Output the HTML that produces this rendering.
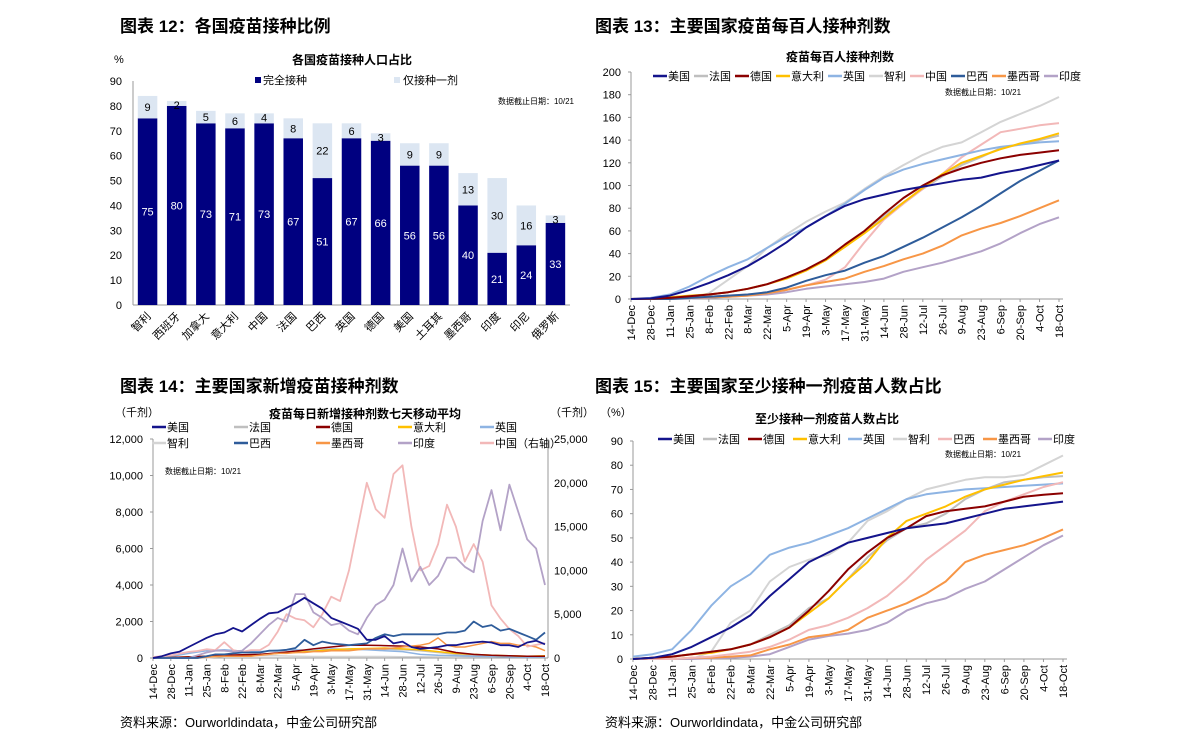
<!DOCTYPE html>
<html><head><meta charset="utf-8"><style>
body{margin:0;background:#fff;}
svg{display:block;font-family:"Liberation Sans","Noto Sans CJK SC",sans-serif;}
</style></head><body>
<svg id="s" width="1190" height="749" viewBox="0 0 1190 749" xmlns="http://www.w3.org/2000/svg">
<g font-weight="bold" font-size="17" fill="#000">
<text x="120" y="32">图表 12：各国疫苗接种比例</text>
<text x="595" y="32">图表 13：主要国家疫苗每百人接种剂数</text>
<text x="120" y="392">图表 14：主要国家新增疫苗接种剂数</text>
<text x="595" y="392">图表 15：主要国家至少接种一剂疫苗人数占比</text>
</g>
<text x="120" y="727" font-size="13">资料来源：Ourworldindata，中金公司研究部</text>
<text x="605" y="727" font-size="13">资料来源：Ourworldindata，中金公司研究部</text>
</svg>
<script>
// ---------- Chart 12 data ----------
const barCats=["智利","西班牙","加拿大","意大利","中国","法国","巴西","英国","德国","美国","土耳其","墨西哥","印度","印尼","俄罗斯"];
const fullVals=[75,80,73,71,73,67,51,67,66,56,56,40,21,24,33];
const partVals=[9,2,5,6,4,8,22,6,3,9,9,13,30,16,3];
const barTicks=[0,10,20,30,40,50,60,70,80,90];
// ---------- shared dates ----------
const dateLabels=["14-Dec","28-Dec","11-Jan","25-Jan","8-Feb","22-Feb","8-Mar","22-Mar","5-Apr","19-Apr","3-May","17-May","31-May","14-Jun","28-Jun","12-Jul","26-Jul","9-Aug","23-Aug","6-Sep","20-Sep","4-Oct","18-Oct"];
// ---------- Chart 13 data (per 100, biweekly) ----------
const c13US=[0,0.5,3,8,14,21,29,39,50,63,73,82,88,92,96,99,102,105,107,111,114,118,122];
const c13FR=[0,0.2,1,2.5,4,6,9,13,19,26,35,46,59,73,85,97,108,118,125,133,136,140,144];
const c13DE=[0,0.3,1,2.5,4,6,9,13,19,26,35,48,60,75,89,100,109,115,120,124,127,129,131];
const c13IT=[0,0.3,1.5,3,4,6,9,13,18,25,34,46,58,71,85,98,110,120,126,132,137,141,146];
const c13UK=[0,1,4,11,20,28,35,45,55,63,73,84,96,107,114,119,123,127,131,134,136,138,139];
const c13CL=[0,0,0,0,5,17,29,45,57,68,77,85,97,108,118,127,134,138,147,156,163,170,178];
const c13CN=[0,0,0,1,2,3,4,5,8,12,17,28,50,70,84,97,110,125,136,147,150,153,155];
const c13BR=[0,0,0,1,2,3,4,6,10,16,21,25,32,38,46,54,63,72,82,93,104,113,122];
const c13MX=[0,0,0.5,1,1.5,2,3,5,8,12,15,18,24,29,35,40,47,56,62,67,73,80,87];
const c13IN=[0,0,0,0.5,1,2,3,4,6,9,11,13,15,18,24,28,32,37,42,49,58,66,72];
const c13Ticks=[0,20,40,60,80,100,120,140,160,180,200];
// ---------- Chart 15 data (% at least one dose) ----------
const c15US=[0,0.5,2,5,9,13,18,26,33,40,44,48,50,52,54,55,56,58,60,62,63,64,65];
const c15FR=[0,0.2,1,2,3,4,6,10,14,21,25,33,42,49,54,56,60,66,70,73,74,75,75.5];
const c15DE=[0,0.5,1,2,3,4,6,9,13,20,28,37,44,50,54,59,61,62,63,65,67,67.8,68.4];
const c15IT=[0,0.5,1,2,2.5,4,6,9,13,19,25,33,40,50,57,60,63,67,70,72,74,75.5,77];
const c15UK=[1,2,4,12,22,30,35,43,46,48,51,54,58,62,66,68,69,70,70.5,71,71.5,72,72.5];
const c15CL=[0,0,0,0,3,15,20,32,38,41,43,48,57,61,66,70,72,74,75,75,76,80,84];
const c15BR=[0,0,0,0.5,1,2,3,5,8,12,14,17,21,26,33,41,47,53,61,65,68,71,73];
const c15MX=[0,0,0,0.5,0.5,1,1.5,4,6,9,10,12,17,20,23,27,32,40,43,45,47,50,53.5];
const c15IN=[0,0,0,0,0.3,0.5,1,2,5,8,9.5,10.5,12,15,20,23,25,29,32,37,42,47,51];
const c15Ticks=[0,10,20,30,40,50,60,70,80,90];
// ---------- Chart 14 data (thousand doses, 7d avg) ----------
const c14WeeklyUS=[0,100,250,350,600,850,1100,1300,1400,1650,1450,1800,2150,2450,2500,2750,3000,3300,3000,2700,2200,2000,1800,1600,1000,1000,1200,800,900,600,500,550,600,700,700,800,850,900,850,700,700,600,850,950,750];
const c14WeeklyIN=[0,0,0,0,0,150,300,400,400,350,400,800,1300,1800,2200,2000,3500,3500,2500,2200,1800,1900,1500,1300,2200,2900,3200,4000,6000,4200,5000,4000,4500,5500,5500,5000,4700,7500,9200,7000,9500,8000,6500,6000,4000];
const c14WeeklyCN=[100,200,300,500,700,800,1000,900,1800,900,700,900,900,1500,3000,5000,4500,4300,3500,5000,7000,6500,10000,15000,20000,17000,16000,21000,22000,15000,10000,10500,13000,17500,15000,11000,13000,11000,6000,4500,3300,2500,1300,1500,1700];
const c14WeeklyBR=[0,0,0,0,0,0,100,200,200,250,300,300,300,400,400,450,550,1000,700,900,800,750,700,750,800,1100,1300,1200,1300,1300,1300,1300,1300,1400,1400,1500,2000,1700,1800,1500,1600,1400,1200,1000,1400];
const c14WeeklyMX=[0,0,0,0,0,0,50,80,100,100,100,100,150,200,250,250,300,300,350,350,400,400,400,450,500,500,500,550,600,650,700,800,1100,700,600,600,700,800,900,800,800,700,700,600,400];
const c14BiDE=[0,30,60,100,150,180,200,280,380,500,600,700,700,680,650,600,500,300,200,150,120,100,100];
const c14BiIT=[0,20,60,80,100,150,180,250,300,380,450,500,520,550,500,450,350,250,200,150,120,100,120];
const c14BiUK=[20,80,250,400,450,380,350,420,450,400,500,480,450,400,350,200,150,120,100,80,60,50,50];
const c14BiFR=[0,10,50,100,120,150,200,250,350,400,450,480,500,480,450,400,300,200,150,120,100,80,80];
const c14BiCL=[0,0,0,0,100,150,120,120,100,80,80,80,80,80,70,70,60,50,60,60,80,80,70];
const c14LeftTicks=[0,2000,4000,6000,8000,10000,12000];
const c14RightTicks=[0,5000,10000,15000,20000,25000];

const svg=document.getElementById('s');
const NS="http://www.w3.org/2000/svg";
function mk(tag,attrs,parent){const e=document.createElementNS(NS,tag);for(const k in attrs)e.setAttribute(k,attrs[k]);(parent||svg).appendChild(e);return e;}
function txt(s,x,y,size,parent,extra){const e=mk('text',Object.assign({x:x,y:y,'font-size':size},extra||{}),parent);e.textContent=s;return e;}
const fmt=n=>n.toLocaleString('en-US');

// ================= Chart 12 =================
(function(){
 const g=mk('g',{});
 
 
 const x0=133,x1=570,y0=305,y90=81;
 const ys=v=>y0-(v/90)*(y0-y90);
 const step=(x1-x0)/barCats.length;const bw=19.5;
 const t=txt('各国疫苗接种人口占比',352,64,12,g,{'text-anchor':'middle','font-weight':'bold'});
 
 
 const u=txt('%',114,63,11,g);
 
 
 barTicks.forEach(v=>{const l=txt(String(v),122,ys(v)+4,11,g,{'text-anchor':'end'});
  
  });
 mk('line',{x1:x0,y1:y90,x2:x0,y2:y0,stroke:'#999'},g);
 mk('line',{x1:x0,y1:y0,x2:x1,y2:y0,stroke:'#999'},g);
 barCats.forEach((c,i)=>{
  const cx=x0+step*(i+0.5);
  const f=fullVals[i],p=partVals[i];
  const r1=mk('rect',{x:cx-bw/2,y:ys(f),width:bw,height:y0-ys(f),fill:'#000080'},g);
  
  
  const r2=mk('rect',{x:cx-bw/2,y:ys(f+p),width:bw,height:ys(f)-ys(f+p),fill:'#dce6f2'},g);
  
  
  const l1=txt(String(f),cx,ys(f/2)+4,11,g,{'text-anchor':'middle',fill:'#fff'});
  
  
  const py=p<5?ys(f+p)+8:ys(f+p/2)+4;
  const l2=txt(String(p),cx,py,11,g,{'text-anchor':'middle'});
  
  
  const cl=txt(c,cx+4,y0+12,11,g,{'text-anchor':'end',transform:`rotate(-45 ${cx+4} ${y0+12})`});
  
  
 });
 const lg1=mk('rect',{x:255,y:77,width:6,height:6,fill:'#000080'},g);
 
 
 const lt1=txt('完全接种',263,84,11,g);
 
 
 const lg2=mk('rect',{x:394,y:77,width:6,height:6,fill:'#dce6f2'},g);
 
 
 const lt2=txt('仅接种一剂',403,84,11,g);
 
 
 const dn=txt('数据截止日期：10/21',574,104,8,g,{'text-anchor':'end'});
 
 
})();

// ================= generic line chart =================
function lineChart(cfg){
 const g=mk('g',{});
 
 
 const {x0,x1,y0,yTop,ymax,ticks}=cfg;
 const days=308;
 const xs=d=>x0+d*(x1-x0)/days;
 const ys=v=>y0-(v/ymax)*(y0-yTop);
 const t=txt(cfg.title,cfg.titleX,cfg.titleY,12,g,{'text-anchor':'middle','font-weight':'bold'});
 
 
 ticks.forEach(v=>{const l=txt(cfg.fmt?cfg.fmt(v):String(v),x0-10,ys(v)+4,11,g,{'text-anchor':'end'});
  
  
  mk('line',{x1:x0-3,y1:ys(v),x2:x0,y2:ys(v),stroke:'#999'},g);});
 mk('line',{x1:x0,y1:yTop,x2:x0,y2:y0,stroke:'#999'},g);
 mk('line',{x1:x0,y1:y0,x2:cfg.xEnd,y2:y0,stroke:'#999'},g);
 dateLabels.forEach((d,i)=>{const x=xs(i*14);
  mk('line',{x1:x,y1:y0,x2:x,y2:y0+3,stroke:'#999'},g);
  const l=txt(d,x+4,y0+6,11,g,{'text-anchor':'end',transform:`rotate(-90 ${x+4} ${y0+6})`});
  
  });
 cfg.series.forEach(s=>{
  const sc=s.right?(v=>y0-(v/cfg.rmax)*(y0-yTop)):ys;
  const step=s.step||14;
  const pts=s.data.map((v,i)=>xs(i*step).toFixed(1)+','+sc(v).toFixed(1)).join(' ');
  const p=mk('polyline',{points:pts,fill:'none',stroke:s.color,'stroke-width':s.w||2,'stroke-linejoin':'round'},g);
  
  
 });
 cfg.legend.forEach(L=>{
  mk('line',{x1:L.x,y1:L.y-4,x2:L.x+14,y2:L.y-4,stroke:L.color,'stroke-width':2.5},g);
  const l=txt(L.label,L.x+15,L.y,11,g);
  
  
 });
 const dn=txt('数据截止日期：10/21',cfg.noteX,cfg.noteY,8,g,cfg.noteAnchor?{'text-anchor':cfg.noteAnchor}:{});
 
 
 return {g,xs,ys};
}
const C={US:'#14148c',FR:'#bfbfbf',DE:'#8b0000',IT:'#ffc000',UK:'#8eb4e3',CL:'#d4d4d4',CN:'#f2b8b8',BR:'#2e5c9a',MX:'#f79646',IN:'#b3a2c7'};
function legendRow(labels,colors,x,y,widths){let cx=x;return labels.map((lb,i)=>{const o={x:cx,y:y,label:lb,color:colors[i]};cx+=widths[i];return o;});}

// ================= Chart 13 =================
lineChart({name:'doses-per-hundred-chart',x0:631,x1:1059,xEnd:1063,y0:299,yTop:72,ymax:200,ticks:c13Ticks,
 title:'疫苗每百人接种剂数',titleX:840,titleY:61,noteX:945,noteY:95,
 series:[
  {key:'france',data:c13FR,color:C.FR},{key:'chile',data:c13CL,color:C.CL},{key:'china',data:c13CN,color:C.CN},
  {key:'uk',data:c13UK,color:C.UK},{key:'india',data:c13IN,color:C.IN},{key:'mexico',data:c13MX,color:C.MX},
  {key:'brazil',data:c13BR,color:C.BR},{key:'italy',data:c13IT,color:C.IT},{key:'germany',data:c13DE,color:C.DE},
  {key:'us',data:c13US,color:C.US}],
 legend:legendRow(['美国','法国','德国','意大利','英国','智利','中国','巴西','墨西哥','印度'],
  [C.US,C.FR,C.DE,C.IT,C.UK,C.CL,C.CN,C.BR,C.MX,C.IN],653,80,[41,41,41,52,41,41,41,41,52,41])
});

// ================= Chart 15 =================
const C15BR='#f2b8b8';
lineChart({name:'first-dose-share-chart',x0:633,x1:1063,xEnd:1067,y0:659,yTop:441,ymax:90,ticks:c15Ticks,
 title:'至少接种一剂疫苗人数占比',titleX:827,titleY:423,noteX:945,noteY:457,
 series:[
  {key:'france',data:c15FR,color:C.FR},{key:'chile',data:c15CL,color:C.CL},{key:'uk',data:c15UK,color:C.UK},
  {key:'india',data:c15IN,color:C.IN},{key:'mexico',data:c15MX,color:C.MX},{key:'brazil',data:c15BR,color:C15BR},
  {key:'italy',data:c15IT,color:C.IT},{key:'germany',data:c15DE,color:C.DE},{key:'us',data:c15US,color:C.US}],
 legend:legendRow(['美国','法国','德国','意大利','英国','智利','巴西','墨西哥','印度'],
  [C.US,C.FR,C.DE,C.IT,C.UK,C.CL,C15BR,C.MX,C.IN],658,443,[45,45,45,55,45,45,45,55,45])
});
(function(){const u=txt('（%）',600,416,11);
 
 })();

// ================= Chart 14 =================
(function(){
 const r=lineChart({name:'daily-doses-chart',x0:153,x1:545,xEnd:548,y0:658,yTop:439,ymax:12000,rmax:25000,ticks:c14LeftTicks,fmt:fmt,
  title:'疫苗每日新增接种剂数七天移动平均',titleX:365,titleY:418,noteX:165,noteY:474,
  series:[
   {key:'chile',data:c14BiCL,color:C.CL,w:1.5},{key:'france',data:c14BiFR,color:C.FR,w:1.5},{key:'uk',data:c14BiUK,color:C.UK,w:1.5},
   {key:'italy',data:c14BiIT,color:C.IT,w:1.5},{key:'germany',data:c14BiDE,color:C.DE,w:1.5},
   {key:'mexico',data:c14WeeklyMX,color:C.MX,step:7,w:1.5},{key:'china',data:c14WeeklyCN,color:C.CN,step:7,right:true,w:1.8},
   {key:'india',data:c14WeeklyIN,color:C.IN,step:7,w:1.8},{key:'brazil',data:c14WeeklyBR,color:C.BR,step:7,w:1.8},
   {key:'us',data:c14WeeklyUS,color:C.US,step:7,w:1.8}],
  legend:legendRow(['美国','法国','德国','意大利','英国'],[C.US,C.FR,C.DE,C.IT,C.UK],152,431,[82,82,82,82,82])
   .concat(legendRow(['智利','巴西','墨西哥','印度','中国（右轴）'],[C.CL,C.BR,C.MX,C.IN,C.CN],152,447,[82,82,82,82,82]))
 });
 mk('line',{x1:548,y1:439,x2:548,y2:658,stroke:'#999'},r.g);
 c14RightTicks.forEach(v=>{const y=658-(v/25000)*(658-439);
  const l=txt(fmt(v),554,y+4,11,r.g);
  
  });
 const a=txt('（千剂）',115,416,11,r.g);
 
 
 const b=txt('（千剂）',550,416,11,r.g);
 
 
})();
</script>
</body></html>
